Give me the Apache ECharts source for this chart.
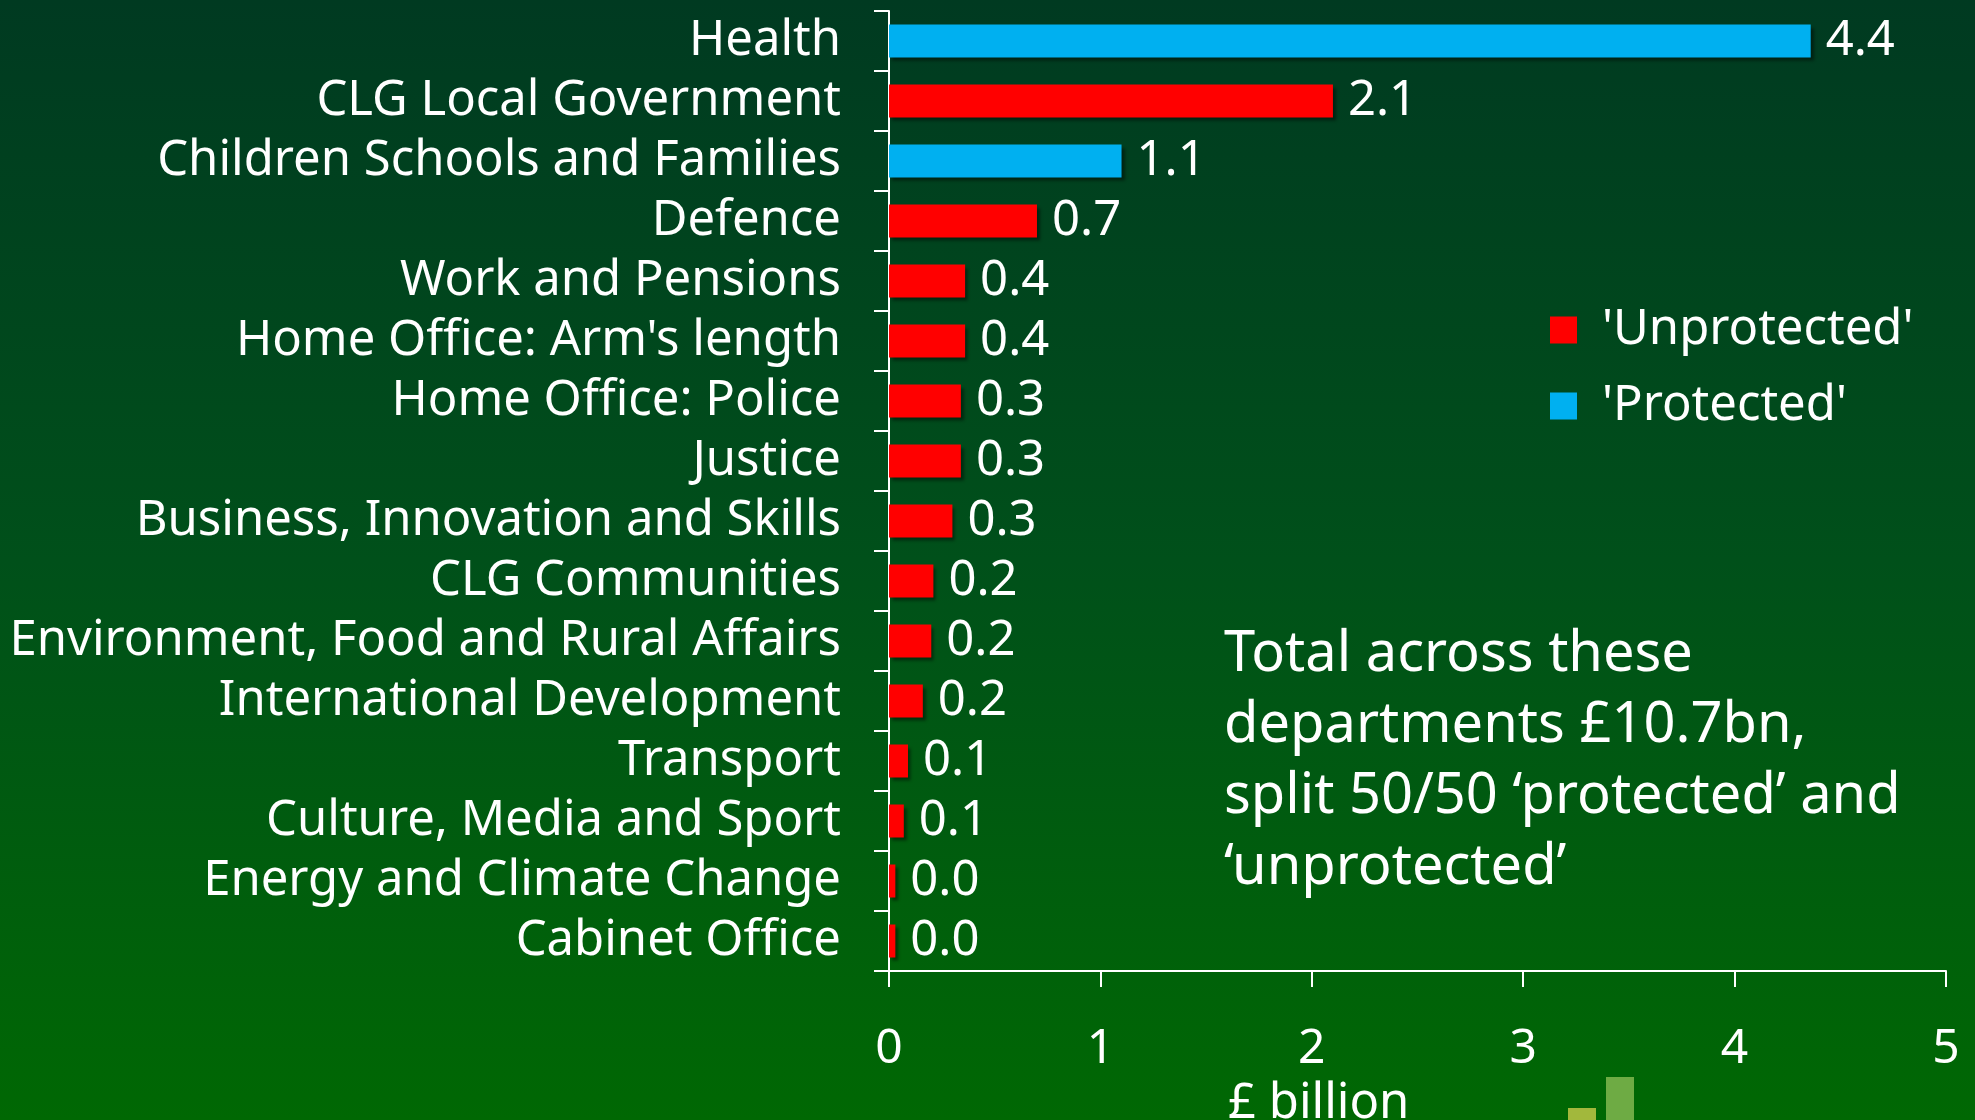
<!DOCTYPE html>
<html>
<head>
<meta charset="utf-8">
<script src="https://cdn.jsdelivr.net/npm/echarts@6/dist/echarts.min.js"></script>
<style>
html,body{margin:0;padding:0;width:1975px;height:1120px;overflow:hidden;}
#chart{width:1975px;height:1120px;}
</style>
</head>
<body>
<div id="chart"></div>
<script>
// Departments (top to bottom)
const categories = [
  "Health",
  "CLG Local Government",
  "Children Schools and Families",
  "Defence",
  "Work and Pensions",
  "Home Office: Arm's length",
  "Home Office: Police",
  "Justice",
  "Business, Innovation and Skills",
  "CLG Communities",
  "Environment, Food and Rural Affairs",
  "International Development",
  "Transport",
  "Culture, Media and Sport",
  "Energy and Climate Change",
  "Cabinet Office"
];
// £ billion
const values = [4.36, 2.10, 1.10, 0.70, 0.36, 0.36, 0.34, 0.34, 0.30, 0.21, 0.20, 0.16, 0.09, 0.07, 0.03, 0.03];
// Protection status per department
const status = ["Protected", "Unprotected", "Protected", "Unprotected", "Unprotected", "Unprotected",
  "Unprotected", "Unprotected", "Unprotected", "Unprotected", "Unprotected", "Unprotected",
  "Unprotected", "Unprotected", "Unprotected", "Unprotected"];
const seriesNames = ["'Unprotected'", "'Protected'"];
const seriesKeys = ["Unprotected", "Protected"];
const xTicks = [0, 1, 2, 3, 4, 5];
const annotation = ["Total across these", "departments £10.7bn,", "split 50/50 \u2018protected\u2019 and", "\u2018unprotected\u2019"];
const axisTitle = "£ billion";

const FONT = "'Noto Sans'";
const colors = {"Unprotected": "#ff0000", "Protected": "#00b0f0"};

const chart = echarts.init(document.getElementById('chart'));

const series = seriesKeys.map((key, i) => ({
  name: seriesNames[i],
  type: 'bar',
  stack: 'all',
  barWidth: '55%',
  data: values.map((v, j) => status[j] === key ? v : '-'),
  itemStyle: {
    color: colors[key],
    shadowColor: 'rgba(0,0,0,0.45)',
    shadowOffsetX: 3,
    shadowOffsetY: 3,
    shadowBlur: 3
  },
  label: {
    show: true,
    position: 'right',
    distance: 15,
    color: '#ffffff',
    fontFamily: FONT,
    fontSize: 49,
    formatter: p => Number(p.value).toFixed(1)
  }
}));

const option = {
  backgroundColor: {
    type: 'linear', x: 0, y: 0, x2: 0, y2: 1,
    colorStops: [
      {offset: 0, color: '#003a21'},
      {offset: 0.5, color: '#00501a'},
      {offset: 1, color: '#006803'}
    ]
  },
  animation: false,
  textStyle: {fontFamily: FONT},
  grid: {left: 889, right: 29, top: 11, bottom: 149, containLabel: false},
  legend: {
    orient: 'vertical',
    left: 1545,
    top: 300,
    itemWidth: 27,
    itemHeight: 27,
    itemGap: 26,
    icon: 'rect',
    data: seriesNames,
    textStyle: {color: '#ffffff', fontFamily: FONT, fontSize: 49, lineHeight: 50, padding: [0, 0, 0, 20]}
  },
  xAxis: {
    type: 'value',
    min: 0,
    max: 5,
    interval: 1,
    splitLine: {show: false},
    axisLine: {show: true, lineStyle: {color: '#ffffff', width: 2}},
    axisTick: {show: true, length: 16, lineStyle: {color: '#ffffff', width: 2}},
    axisLabel: {color: '#ffffff', fontFamily: FONT, fontSize: 48, margin: 54,
      formatter: v => xTicks.indexOf(v) >= 0 ? String(v) : ''}
  },
  yAxis: {
    type: 'category',
    data: categories,
    inverse: true,
    axisLine: {show: true, lineStyle: {color: '#ffffff', width: 2}},
    axisTick: {show: true, length: 15, lineStyle: {color: '#ffffff', width: 2}},
    axisLabel: {color: '#ffffff', fontFamily: FONT, fontSize: 49, margin: 48, interval: 0}
  },
  graphic: [
    {
      type: 'text',
      left: 1224,
      top: 620,
      style: {
        text: annotation.join('\n'),
        fill: '#ffffff',
        font: '56px ' + FONT,
        lineHeight: 71
      }
    },
    {
      type: 'text',
      left: 1228,
      top: 1080,
      style: {text: axisTitle, fill: '#ffffff', font: '49px ' + FONT}
    },
    {type: 'rect', shape: {x: 1568, y: 1108, width: 28, height: 12}, style: {fill: '#a2b83c'}},
    {type: 'rect', shape: {x: 1606, y: 1077, width: 28, height: 43}, style: {fill: '#6eab44'}}
  ],
  series: series
};
chart.setOption(option);
</script>
</body>
</html>
